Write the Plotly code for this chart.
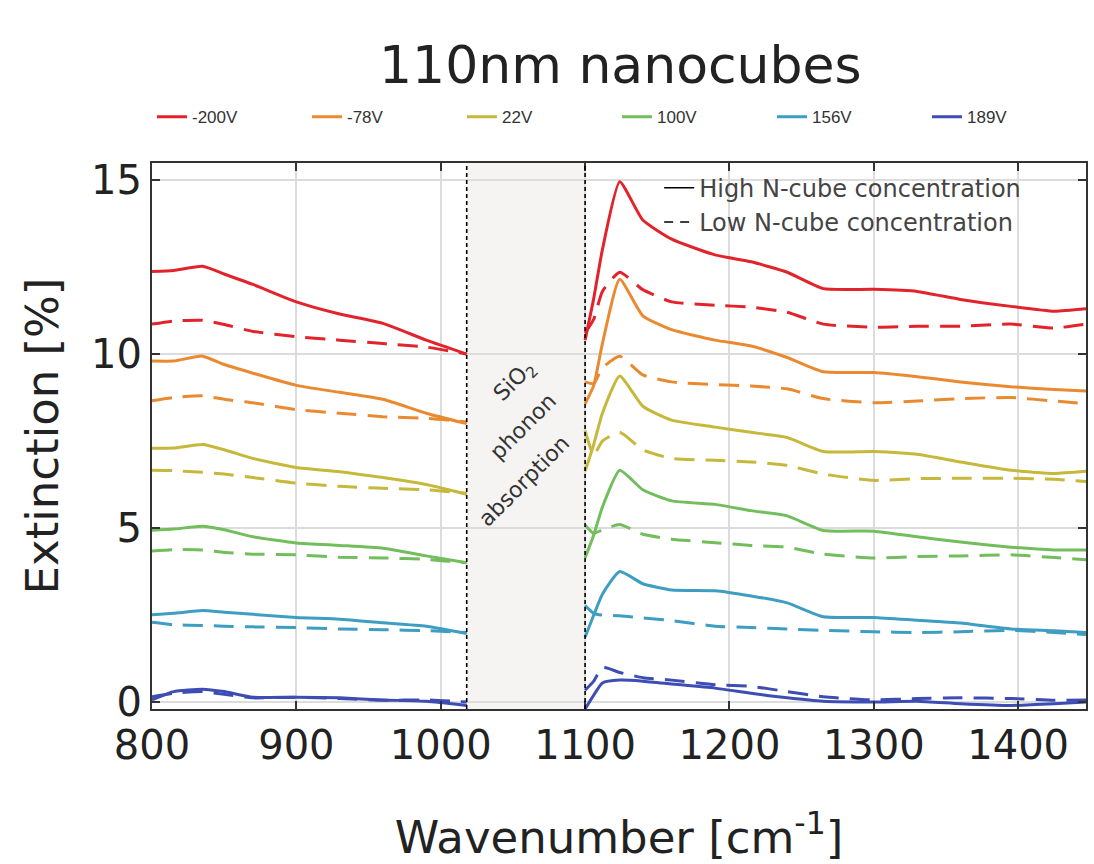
import plotly.graph_objects as go

# ---------------- data ----------------
labels = ["-200V", "-78V", "22V", "100V", "156V", "189V"]
colors = ["#e3232c", "#ea8a30", "#c6b83a", "#72bd5c", "#3e9ec2", "#3d4db3"]

x_left = [800, 815, 835, 850, 870, 900, 930, 960, 990, 1018]
x_right = [1100, 1106, 1112, 1124, 1140, 1160, 1190, 1215, 1240, 1265, 1300, 1330, 1360, 1395, 1425, 1447]

# high concentration (solid) -- left segment
high_left = [
    [12.37, 12.40, 12.52, 12.30, 12.00, 11.50, 11.15, 10.88, 10.40, 10.00],
    [9.80, 9.80, 9.94, 9.70, 9.45, 9.10, 8.90, 8.70, 8.30, 8.00],
    [7.29, 7.30, 7.40, 7.25, 7.00, 6.74, 6.62, 6.45, 6.25, 5.97],
    [4.94, 4.97, 5.05, 4.95, 4.75, 4.57, 4.50, 4.42, 4.20, 4.00],
    [2.51, 2.55, 2.63, 2.58, 2.52, 2.43, 2.38, 2.28, 2.18, 1.97],
    [0.06, 0.30, 0.37, 0.30, 0.14, 0.14, 0.12, 0.06, 0.02, -0.10],
]
# low concentration (dashed) -- left segment
low_left = [
    [10.86, 10.95, 10.97, 10.85, 10.65, 10.50, 10.40, 10.30, 10.20, 10.00],
    [8.66, 8.75, 8.80, 8.70, 8.60, 8.40, 8.30, 8.20, 8.15, 8.05],
    [6.66, 6.65, 6.60, 6.55, 6.45, 6.29, 6.20, 6.14, 6.10, 6.00],
    [4.34, 4.38, 4.37, 4.30, 4.25, 4.23, 4.16, 4.14, 4.10, 4.00],
    [2.29, 2.22, 2.20, 2.18, 2.16, 2.14, 2.10, 2.08, 2.05, 2.00],
    [0.15, 0.25, 0.30, 0.22, 0.12, 0.14, 0.10, 0.05, 0.06, 0.00],
]
# high concentration (solid) -- right segment
high_right = [
    [10.40, 11.60, 13.00, 14.95, 13.85, 13.30, 12.85, 12.65, 12.35, 11.88, 11.86, 11.80, 11.57, 11.37, 11.23, 11.30],
    [8.57, 9.10, 10.30, 12.15, 11.10, 10.70, 10.40, 10.23, 9.90, 9.49, 9.47, 9.35, 9.20, 9.06, 8.98, 8.94],
    [6.63, 7.40, 8.30, 9.37, 8.50, 8.10, 7.90, 7.75, 7.60, 7.20, 7.20, 7.12, 6.90, 6.66, 6.57, 6.63],
    [4.14, 4.80, 5.60, 6.66, 6.10, 5.78, 5.68, 5.50, 5.35, 4.93, 4.91, 4.75, 4.60, 4.45, 4.37, 4.37],
    [1.86, 2.50, 3.10, 3.75, 3.40, 3.22, 3.20, 3.05, 2.85, 2.45, 2.43, 2.35, 2.27, 2.10, 2.05, 2.00],
    [-0.20, 0.20, 0.55, 0.63, 0.60, 0.52, 0.40, 0.25, 0.12, 0.02, 0.00, 0.02, -0.05, -0.10, -0.05, 0.00],
]
# low concentration (dashed) -- right segment
low_right = [
    [10.60, 11.00, 11.80, 12.35, 11.85, 11.50, 11.40, 11.35, 11.20, 10.86, 10.77, 10.80, 10.80, 10.86, 10.75, 10.86],
    [9.20, 9.15, 9.60, 9.94, 9.40, 9.20, 9.12, 9.08, 9.00, 8.72, 8.60, 8.65, 8.72, 8.75, 8.65, 8.57],
    [7.80, 7.10, 7.50, 7.75, 7.25, 7.00, 6.95, 6.90, 6.80, 6.55, 6.37, 6.42, 6.43, 6.43, 6.40, 6.34],
    [5.09, 4.85, 4.95, 5.10, 4.82, 4.68, 4.58, 4.50, 4.45, 4.25, 4.14, 4.18, 4.20, 4.23, 4.15, 4.09],
    [2.77, 2.55, 2.50, 2.48, 2.42, 2.34, 2.18, 2.14, 2.10, 2.06, 2.02, 2.00, 2.02, 2.06, 2.00, 1.94],
    [0.34, 0.60, 1.00, 0.85, 0.70, 0.63, 0.50, 0.45, 0.30, 0.15, 0.06, 0.10, 0.12, 0.10, 0.05, 0.06],
]

band = [1018, 1100]  # SiO2 phonon absorption region (cm^-1)
band_text = ["SiO<sub>2</sub>", "phonon", "absorption"]
band_text_x = [1052, 1057, 1058]
band_text_y = [9.2, 7.91, 6.37]

x_ticks = [800, 900, 1000, 1100, 1200, 1300, 1400]
y_ticks = [0, 5, 10, 15]

FONT = "DejaVu Sans, Verdana, sans-serif"

# ---------------- figure ----------------
fig = go.Figure()
xs = x_left + [None] + x_right
for i, lab in enumerate(labels):
    fig.add_trace(go.Scatter(
        x=xs, y=low_left[i] + [None] + low_right[i], mode="lines",
        line=dict(color=colors[i], width=3, dash="20px,11px", shape="spline", smoothing=0.5),
        showlegend=False, connectgaps=False, hoverinfo="skip"))
for i, lab in enumerate(labels):
    fig.add_trace(go.Scatter(
        x=xs, y=high_left[i] + [None] + high_right[i], mode="lines",
        line=dict(color=colors[i], width=3, shape="spline", smoothing=0.5),
        name=lab, legend="legend", connectgaps=False))

# line-style legend entries
fig.add_trace(go.Scatter(x=[None], y=[None], mode="lines",
                         line=dict(color="black", width=1.5),
                         name="High N-cube concentration", legend="legend2"))
fig.add_trace(go.Scatter(x=[None], y=[None], mode="lines",
                         line=dict(color="black", width=1.5, dash="9px,7px"),
                         name="Low N-cube concentration", legend="legend2"))

# SiO2 band
fig.add_shape(type="rect", xref="x", yref="paper", x0=band[0], x1=band[1], y0=0, y1=1,
              fillcolor="#f5f4f2", line=dict(width=0), layer="between")
for xb in band:
    fig.add_shape(type="line", xref="x", yref="paper", x0=xb, x1=xb, y0=0, y1=1,
                  line=dict(color="black", width=1.6, dash="4px,3px"), layer="above")
for t, tx, ty in zip(band_text, band_text_x, band_text_y):
    fig.add_annotation(x=tx, y=ty, xref="x", yref="y", text=t, showarrow=False,
                       textangle=-45, font=dict(family=FONT, size=22, color="#333"))

axis_common = dict(
    showline=True, linecolor="#333", linewidth=2, mirror="ticks",
    ticks="inside", ticklen=8, tickwidth=1.5, tickcolor="#333",
    showgrid=True, gridcolor="#dcdcdc", gridwidth=1.5, zeroline=False,
    tickfont=dict(family=FONT, size=40, color="#222"),
)

fig.update_layout(
    width=1094, height=864,
    margin=dict(l=152, r=6, t=163, b=152),
    paper_bgcolor="white", plot_bgcolor="white",
    title=dict(text="110nm nanocubes", x=0.567, xanchor="center", y=0.925, yanchor="middle",
               font=dict(family=FONT, size=52, color="#222")),
    xaxis=dict(range=[800, 1447], tickvals=x_ticks,
               title=dict(text="Wavenumber [cm<sup>-1</sup>]",
                          font=dict(family=FONT, size=45, color="#222"), standoff=58),
               **axis_common),
    yaxis=dict(range=[-0.2, 15.49], tickvals=y_ticks,
               title=dict(text="Extinction [%]",
                          font=dict(family=FONT, size=45, color="#222"), standoff=18),
               **axis_common),
    legend=dict(orientation="h", x=0.0, xanchor="left", y=1.084, yanchor="middle",
                entrywidth=110, entrywidthmode="pixels", itemwidth=30,
                font=dict(family="Liberation Sans Narrow, Liberation Sans, sans-serif", size=17, color="#333"),
                bgcolor="rgba(0,0,0,0)", borderwidth=0),
    legend2=dict(orientation="v", x=0.543, xanchor="left", y=0.995, yanchor="top",
                 font=dict(family=FONT, size=24, color="#444"),
                 bgcolor="rgba(0,0,0,0)", borderwidth=0, tracegroupgap=0),
)

fig.write_html("out.html")
